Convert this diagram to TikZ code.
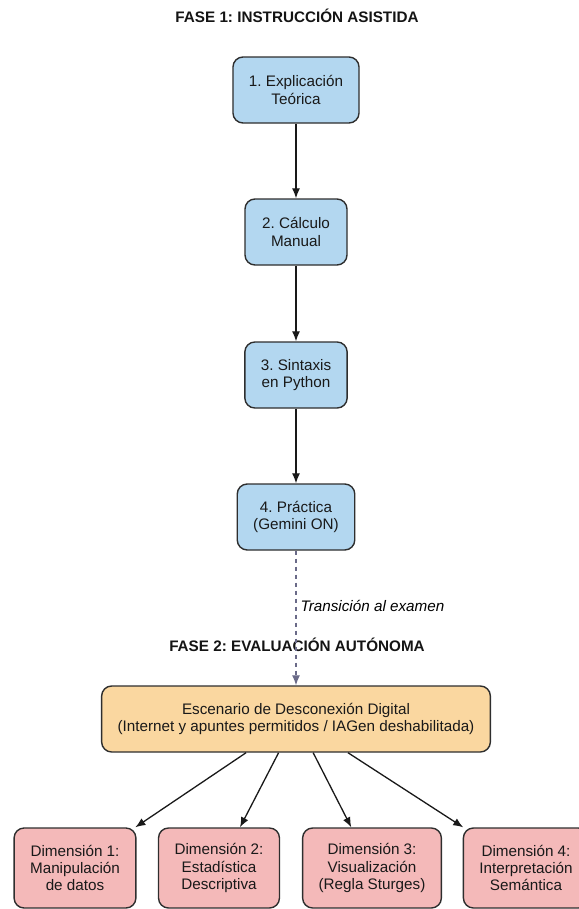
\documentclass[tikz,border=0pt]{standalone}
\usepackage{fontspec}
\setmainfont{Liberation Sans}
\usepackage{tikz}
\usetikzlibrary{arrows.meta,shapes}
\definecolor{pasocol}{HTML}{B3D7F0}
\definecolor{escenariocol}{HTML}{FAD7A0}
\definecolor{dimcol}{HTML}{F4B9B9}
\definecolor{bordecol}{HTML}{2E2E2E}
\definecolor{transcol}{HTML}{6A6A88}
\tikzset{caja/.style={rectangle, rounded corners=10bp, draw=bordecol, line width=1.4bp, align=center, inner xsep=16bp, text=black!90},
  titulo/.style={font=\fontsize{15.3}{18}\bfseries\selectfont, text=black!92},
  flecha/.style={-{Latex[length=10bp,width=8bp]}, line width=1.3bp, draw=black!90}}
\newcommand{\pasobox}[2]{node[caja, fill=pasocol, minimum width=102bp, minimum height=66bp](#1) {#2}}
\newcommand{\dimbox}[2]{node[caja, fill=dimcol, minimum height=80bp](#1) {#2}}
\frenchspacing

\begin{document}
\begin{tikzpicture}[x=1bp, y=-1bp, font=\fontsize{15.3}{17.5}\selectfont]
\useasboundingbox (0,0) rectangle (579,909);
\draw (297, 16) node[titulo](fase1) {FASE 1: INSTRUCCIÓN ASISTIDA} ;
\draw (296, 90) \pasobox{p1}{1. Explicación\\Teórica} ;
\draw (296, 232) \pasobox{p2}{2. Cálculo\\Manual} ;
\draw (296, 375) \pasobox{p3}{3. Sintaxis\\en Python} ;
\draw (296, 517) \pasobox{p4}{4. Práctica\\(Gemini ON)} ;
\draw[flecha] (p1) -- (p2) ;
\draw[flecha] (p2) -- (p3) ;
\draw[flecha] (p3) -- (p4) ;
  % fase 2
\draw (297, 645) node[titulo](fase2) {FASE 2: EVALUACIÓN AUTÓNOMA} ;
\draw (296, 719) node[caja, fill=escenariocol, minimum height=66bp](esc) {Escenario de Desconexión Digital\\(Internet y apuntes permitidos / IAGen deshabilitada)} ;
\draw[flecha, draw=transcol, dash pattern=on 4bp off 4bp] (p4) -- node[right, pos=0.41, inner sep=4bp, font=\fontsize{15.3}{17.5}\itshape\selectfont](trans) {Transición al examen} (esc) ;
\draw (75, 868) \dimbox{d1}{Dimensión 1:\\Manipulación\\de datos} ;
\draw (219, 868) \dimbox{d2}{Dimensión 2:\\Estadística\\Descriptiva} ;
\draw (372, 868) \dimbox{d3}{Dimensión 3:\\Visualización\\(Regla Sturges)} ;
\draw (526, 868) \dimbox{d4}{Dimensión 4:\\Interpretación\\Semántica} ;
\foreach \d in {d1,d2,d3,d4}
  \draw[flecha] (esc) -- (\d) ;
\end{tikzpicture}
\end{document}
